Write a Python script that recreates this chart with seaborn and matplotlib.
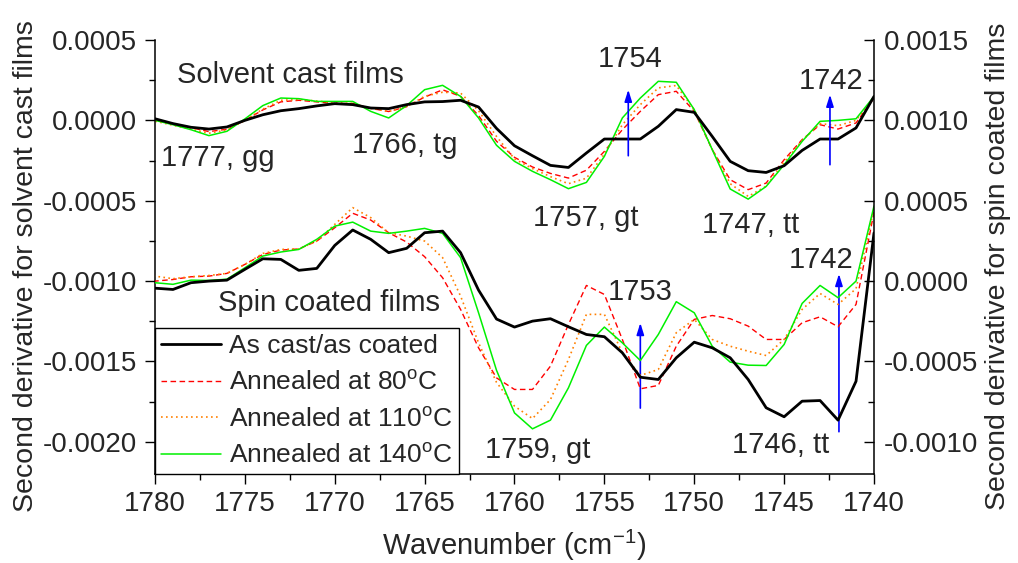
import matplotlib
matplotlib.use("Agg")
import matplotlib.pyplot as plt
import numpy as np
import pandas as pd
import seaborn as sns
from matplotlib.ticker import MultipleLocator, FormatStrFormatter
from matplotlib.lines import Line2D

# Wavenumber grid (cm^-1), one point per wavenumber
wavenumber = list(range(1780, 1739, -1))

series_names = ["As cast/as coated",
                "Annealed at 80$^{\\rm o}$C",
                "Annealed at 110$^{\\rm o}$C",
                "Annealed at 140$^{\\rm o}$C"]

# Second-derivative values in units of 1e-4
SCALE = 1e-4

# Solvent cast films (left axis)
cast_as = [0.1, -0.2, -0.43, -0.54, -0.41, 0.0, 0.35, 0.6, 0.73, 0.9,
           1.04, 0.98, 0.77, 0.73, 0.98, 1.15, 1.17, 1.25, 0.83, -0.5,
           -1.58, -2.2, -2.8, -2.93, -2.03, -1.16, -1.16, -1.16, -0.37, 0.67,
           0.5, -1.0, -2.55, -3.13, -3.24, -2.82, -1.87, -1.16, -1.16, -0.47,
           1.49]
cast_80 = [0.0, -0.2, -0.45, -0.7, -0.55, 0.0, 0.65, 1.15, 1.25, 1.15,
           1.05, 1.05, 0.75, 0.55, 0.85, 1.45, 1.9, 1.5, 0.3, -1.3,
           -2.3, -2.9, -3.3, -3.59, -3.1, -1.93, -0.58, 0.56, 1.6, 1.81,
           0.56, -1.82, -3.69, -4.31, -3.9, -2.45, -1.2, -0.27, -0.54, -0.16,
           1.39]
cast_110 = [-0.05, -0.3, -0.55, -0.8, -0.6, 0.0, 0.7, 1.25, 1.3, 1.2,
            1.1, 1.05, 0.75, 0.55, 0.85, 1.5, 1.75, 1.7, 0.6, -1.0,
            -2.4, -3.0, -3.5, -3.94, -3.6, -2.1, -0.27, 0.98, 2.02, 2.17,
            0.67, -1.8, -3.94, -4.73, -4.1, -2.6, -1.25, -0.2, -0.33, 0.0,
            1.45]
cast_140 = [0.0, -0.27, -0.58, -0.95, -0.68, 0.09, 0.92, 1.39, 1.35, 1.18,
            1.18, 1.18, 0.56, 0.15, 0.92, 1.91, 2.18, 1.49, 0.15, -1.55,
            -2.55, -3.17, -3.69, -4.25, -3.86, -2.24, 0.15, 1.39, 2.43, 2.37,
            0.67, -1.82, -4.27, -4.9, -4.11, -2.76, -1.31, -0.06, 0.0, 0.1,
            1.49]

# Spin coated films (right axis)
spin_as = [-0.44, -0.52, -0.1, 0.0, 0.06, 0.73, 1.39, 1.35, 0.67, 0.79,
           2.22, 3.18, 2.6, 1.77, 2.04, 3.01, 3.11, 1.77, -0.56, -2.36,
           -2.86, -2.49, -2.34, -2.84, -3.32, -3.46, -4.46, -5.98, -6.12, -4.77,
           -3.8, -4.15, -4.77, -6.12, -7.88, -8.44, -7.47, -7.43, -8.65, -6.23,
           3.0]
spin_80 = [0.0, 0.1, 0.27, 0.31, 0.48, 1.04, 1.66, 1.93, 2.0, 2.49,
           3.32, 4.22, 3.8, 3.01, 2.43, 1.52, 0.21, -1.76, -4.15, -6.02,
           -6.74, -6.74, -5.29, -2.7, -0.27, -0.83, -3.63, -6.7, -6.49, -4.05,
           -2.38, -2.14, -2.34, -2.8, -3.63, -3.63, -2.59, -2.22, -2.84, -1.45,
           4.3]
spin_110 = [0.31, 0.15, 0.27, 0.35, 0.48, 1.04, 1.72, 1.97, 2.0, 2.49,
            3.53, 4.57, 3.95, 3.01, 2.8, 2.49, 1.46, -0.93, -3.84, -6.3,
            -7.78, -8.55, -7.37, -4.88, -2.07, -2.07, -4.46, -5.87, -5.5, -3.21,
            -2.38, -3.63, -4.05, -4.36, -4.63, -3.63, -1.76, -0.77, -1.45, -0.47,
            4.5]
spin_140 = [-0.1, -0.2, 0.06, 0.04, 0.12, 0.83, 1.56, 1.81, 1.97, 2.6,
            3.42, 3.67, 3.11, 2.97, 3.11, 3.28, 2.97, 1.46, -1.97, -5.55,
            -8.2, -9.19, -8.65, -6.64, -4.0, -2.86, -3.84, -4.94, -3.32, -1.28,
            -1.97, -4.05, -5.04, -5.23, -5.25, -3.94, -1.39, -0.27, -1.03, 0.0,
            4.67]

left_ticks = [-0.0020, -0.0015, -0.0010, -0.0005, 0.0000, 0.0005]
right_ticks = [-0.0010, -0.0005, 0.0000, 0.0005, 0.0010, 0.0015]
x_ticks = [1780, 1775, 1770, 1765, 1760, 1755, 1750, 1745, 1740]

colors = ["#000000", "#ff0000", "#ff8000", "#00f000"]
widths = [2.0, 1.0, 1.2, 1.1]
dash_styles = ["-", (0, (4, 2.5)), (0, (1, 2)), "-"]

sns.set_style("ticks")
plt.rcParams["font.family"] = ["Liberation Sans", "DejaVu Sans"]
plt.rcParams["mathtext.fontset"] = "custom"
plt.rcParams["mathtext.rm"] = "Liberation Sans"
plt.rcParams["mathtext.it"] = "Liberation Sans:italic"
plt.rcParams["axes.unicode_minus"] = False

W, H = 1018, 563
fig = plt.figure(figsize=(W / 100, H / 100), dpi=100)
ax = fig.add_axes([155 / W, 1 - 474 / H, (874 - 155) / W, (474 - 40) / H])
ax2 = ax.twinx()


def frame(values_list, set_name):
    rows = []
    for name, vals in zip(series_names, values_list):
        for wn, v in zip(wavenumber, vals):
            rows.append({"wavenumber": wn, "value": v * SCALE,
                         "series": name, "set": set_name})
    return pd.DataFrame(rows)


df_cast = frame([cast_as, cast_80, cast_110, cast_140], "cast")
df_spin = frame([spin_as, spin_80, spin_110, spin_140], "spin")

# draw thin curves first, the thick black one on top
order = [1, 2, 3, 0]
for target, df in ((ax, df_cast), (ax2, df_spin)):
    for i in order:
        sub = df[df["series"] == series_names[i]]
        sns.lineplot(data=sub, x="wavenumber", y="value", ax=target,
                     color=colors[i], lw=widths[i], linestyle=dash_styles[i],
                     legend=False, zorder=3 if i == 0 else 2)

ax.set_xlim(1780, 1740)
ax.set_ylim(-0.0022, 0.0005)
ax2.set_ylim(-0.0012, 0.0015)

ax.set_xticks(x_ticks)
ax.xaxis.set_minor_locator(MultipleLocator(2.5))
ax.set_yticks(left_ticks)
ax.yaxis.set_minor_locator(MultipleLocator(0.00025))
ax.yaxis.set_major_formatter(FormatStrFormatter("%.4f"))
ax2.set_yticks(right_ticks)
ax2.yaxis.set_minor_locator(MultipleLocator(0.00025))
ax2.yaxis.set_major_formatter(FormatStrFormatter("%.4f"))

tick_fs = 20
ax.tick_params(axis="both", which="major", direction="out", length=7,
               width=1.0, labelsize=tick_fs, color="black")
ax.tick_params(axis="x", which="major", pad=5)
ax.tick_params(axis="y", which="major", pad=6)
ax.tick_params(axis="both", which="minor", direction="out", length=4,
               width=1.0, color="black")
ax2.tick_params(axis="y", which="major", direction="in", length=7,
                width=1.0, labelsize=tick_fs, pad=7, color="black")
ax2.tick_params(axis="y", which="minor", direction="in", length=4,
                width=1.0, color="black")

for a in (ax, ax2):
    a.spines["top"].set_visible(False)
    for s in ("left", "right", "bottom"):
        a.spines[s].set_linewidth(1.1)
        a.spines[s].set_color("black")
ax2.spines["left"].set_visible(False)
ax2.spines["bottom"].set_visible(False)
ax.spines["right"].set_visible(False)

ax.set_xlabel("Wavenumber (cm$^{-1}$)", fontsize=21)
ax.set_ylabel("Second derivative for solvent cast films", fontsize=20.5)
ax2.set_ylabel("Second derivative for spin coated films", fontsize=20.5)
ax.xaxis.set_label_coords(0.5, -0.125)
ax.yaxis.set_label_coords(-0.162, 0.479)
ax2.yaxis.set_label_coords(1.154, 0.479)

# band assignments and headings (left-axis coordinates)
ann_fs = 21
notes = [
    ("Solvent cast films", 1778.8, 0.000235),
    ("1777, gg", 1779.65, -0.000286),
    ("1766, tg", 1769.05, -0.000203),
    ("1754", 1755.35, 0.000332),
    ("1742", 1744.2, 0.000195),
    ("1757, gt", 1758.95, -0.00066),
    ("1747, tt", 1749.55, -0.000701),
    ("1742", 1744.75, -0.000919),
    ("1753", 1754.8, -0.001116),
    ("Spin coated films", 1776.5, -0.001187),
    ("1759, gt", 1761.65, -0.002102),
    ("1746, tt", 1747.9, -0.002071),
]
for txt, xw, yv in notes:
    ax.text(xw, yv, txt, fontsize=ann_fs, ha="left", va="baseline",
            zorder=5)

arrows = [
    (1753.67, -0.00022, 0.000191),
    (1742.45, -0.000276, 0.00016),
    (1753.0, -0.00179, -0.00126),
    (1741.95, -0.001937, -0.000955),
]
for xw, y0, y1 in arrows:
    ax.annotate("", xy=(xw, y1), xytext=(xw, y0),
                arrowprops=dict(arrowstyle="-|>,head_length=0.7,head_width=0.22",
                                color="#0000ff", lw=1.2, shrinkA=0, shrinkB=0),
                zorder=6)

handles = [Line2D([0], [0], color=colors[i], lw=widths[i],
                  linestyle=dash_styles[i]) for i in range(4)]
leg = ax2.legend(handles, series_names, loc="lower left",
                 bbox_to_anchor=(0, 0), borderaxespad=0, fontsize=19,
                 frameon=True, fancybox=False, edgecolor="black",
                 framealpha=1, handlelength=2.3, handletextpad=0.3,
                 labelspacing=0.48, borderpad=0.22)
leg.get_frame().set_linewidth(1.0)
leg.set_zorder(10)

fig.savefig("out.png", dpi=100)
